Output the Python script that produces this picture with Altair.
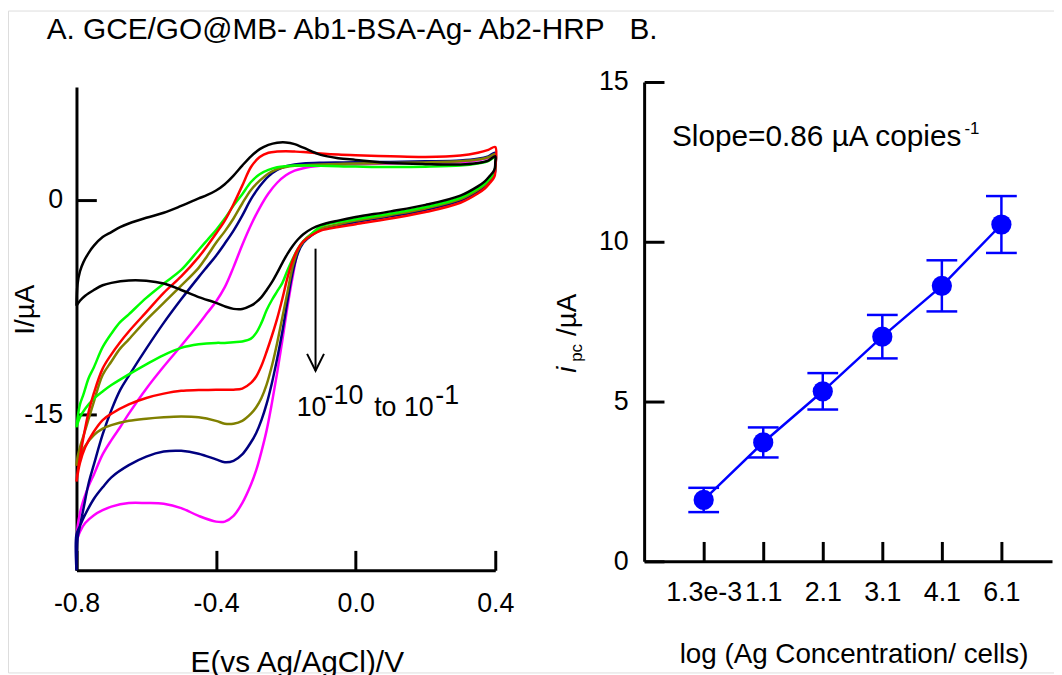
import altair as alt
import pandas as pd

FONT = "Liberation Sans"
W, H = 1054, 667
BLUE = "#0000ff"

# ---------------- Panel A : cyclic voltammograms ----------------
E_UP = [-0.8, -0.797, -0.79, -0.78, -0.765, -0.75, -0.725, -0.7, -0.675, -0.65,
        -0.6, -0.55, -0.5, -0.45, -0.425, -0.4, -0.375, -0.35, -0.325, -0.3,
        -0.275, -0.25, -0.225, -0.2, -0.175, -0.15, -0.1, -0.05, 0.0, 0.1,
        0.2, 0.3, 0.35, 0.38, 0.4]
E_DOWN = [0.4, 0.399, 0.395, 0.385, 0.37, 0.35, 0.3, 0.2, 0.1, 0.0,
          -0.05, -0.1, -0.125, -0.15, -0.165, -0.18, -0.195, -0.21, -0.225, -0.24,
          -0.255, -0.27, -0.285, -0.3, -0.325, -0.35, -0.375, -0.4, -0.45, -0.5,
          -0.55, -0.6, -0.65, -0.7, -0.725, -0.75, -0.775, -0.79, -0.8]

BLACK_UP = [-7.4, -5.9, -5.0, -4.35, -3.7, -3.2, -2.6, -2.25, -1.9, -1.65,
            -1.25, -0.9, -0.42, 0.1, 0.35, 0.66, 1.1, 1.7, 2.4, 3.05,
            3.55, 3.85, 4.0, 4.02, 3.9, 3.65, 3.15, 2.92, 2.8, 2.58,
            2.5, 2.48, 2.58, 2.75, 3.05]
BLACK_DOWN = [2.6, 2.25, 2.0, 1.7, 1.3, 0.95, 0.3, -0.35, -0.8, -1.2,
              -1.45, -1.75, -2.0, -2.4, -2.75, -3.2, -3.75, -4.4, -5.1, -5.75,
              -6.3, -6.8, -7.15, -7.4, -7.63, -7.62, -7.45, -7.2, -6.8, -6.3,
              -5.85, -5.65, -5.63, -5.8, -5.97, -6.3, -6.7, -7.05, -7.4]
GREEN_UP = [-15.9, -15.3, -14.3, -13.6, -12.45, -11.7, -10.3, -9.35, -8.55, -8.0,
            -6.85, -5.85, -4.9, -3.5, -2.8, -2.1, -1.3, -0.4, 0.4, 1.25,
            1.8, 2.1, 2.28, 2.36, 2.4, 2.4, 2.38, 2.35, 2.33, 2.3,
            2.32, 2.4, 2.55, 2.72, 3.0]
GREEN_DOWN = [2.5, 2.1, 1.85, 1.55, 1.15, 0.8, 0.15, -0.5, -0.95, -1.35,
              -1.55, -1.85, -2.35, -2.9, -3.4, -4.1, -4.9, -5.8, -6.4, -7.0,
              -7.7, -8.6, -9.3, -9.7, -9.9, -9.95, -10.0, -10.0, -10.1, -10.35,
              -10.85, -11.5, -12.2, -12.95, -13.4, -13.9, -14.6, -15.2, -15.9]
RED_UP = [-19.7, -19.1, -18.0, -16.6, -14.8, -13.5, -11.8, -10.8, -9.95, -9.2,
          -7.85, -6.5, -5.35, -4.0, -3.2, -2.35, -1.45, -0.3, 1.0, 2.3,
          3.0, 3.3, 3.38, 3.4, 3.38, 3.35, 3.25, 3.17, 3.12, 3.05,
          3.0, 3.1, 3.3, 3.5, 3.7]
RED_DOWN = [2.15, 1.75, 1.5, 1.2, 0.8, 0.45, -0.2, -0.85, -1.3, -1.7,
            -1.9, -2.15, -2.45, -2.9, -3.4, -4.2, -5.4, -6.9, -8.3, -9.5,
            -10.6, -11.6, -12.35, -12.8, -13.2, -13.27, -13.27, -13.27, -13.3, -13.35,
            -13.55, -13.85, -14.3, -14.95, -15.4, -16.2, -17.3, -18.4, -19.7]
OLIVE_UP = [-18.6, -18.0, -17.3, -16.5, -15.3, -14.1, -12.25, -11.3, -10.4, -9.75,
            -8.4, -7.2, -6.0, -4.75, -3.9, -3.0, -2.2, -1.3, -0.25, 0.7,
            1.35, 1.85, 2.15, 2.3, 2.38, 2.42, 2.48, 2.52, 2.55, 2.58,
            2.62, 2.7, 2.82, 2.98, 3.2]
OLIVE_DOWN = [2.4, 2.0, 1.75, 1.45, 1.05, 0.7, 0.05, -0.6, -1.05, -1.45,
              -1.7, -2.0, -2.35, -2.9, -3.5, -4.6, -6.4, -8.2, -10.0, -11.6,
              -12.9, -13.85, -14.5, -14.95, -15.45, -15.65, -15.65, -15.45, -15.2, -15.15,
              -15.2, -15.3, -15.45, -15.75, -16.0, -16.45, -17.2, -17.85, -18.6]
NAVY_UP = [-25.9, -23.7, -22.8, -21.6, -19.8, -18.5, -16.4, -14.7, -13.3, -12.3,
           -10.4, -8.6, -6.95, -5.4, -4.65, -3.9, -3.05, -2.15, -1.1, 0.05,
           0.95, 1.65, 2.1, 2.35, 2.48, 2.55, 2.6, 2.62, 2.63, 2.66,
           2.7, 2.76, 2.88, 3.05, 3.3]
NAVY_DOWN = [2.3, 1.9, 1.65, 1.35, 0.95, 0.6, -0.05, -0.7, -1.15, -1.55,
             -1.8, -2.1, -2.45, -3.0, -3.7, -5.0, -7.0, -9.2, -11.1, -12.8,
             -14.25, -15.4, -16.3, -16.95, -17.8, -18.25, -18.35, -18.15, -17.75, -17.55,
             -17.6, -17.95, -18.55, -19.4, -20.1, -20.9, -22.0, -22.8, -23.4]
MAGENTA_UP = [-24.0, -22.9, -21.9, -21.0, -20.0, -19.2, -17.8, -16.8, -15.9, -14.95,
              -13.2, -11.65, -10.2, -8.7, -7.9, -7.1, -6.1, -4.7, -3.15, -1.75,
              -0.55, 0.45, 1.2, 1.72, 2.05, 2.22, 2.38, 2.45, 2.48, 2.55,
              2.6, 2.65, 2.78, 2.92, 3.1]
MAGENTA_DOWN = [2.35, 1.95, 1.7, 1.4, 1.0, 0.65, 0.0, -0.65, -1.1, -1.5,
                -1.75, -2.05, -2.4, -2.95, -3.6, -5.3, -7.4, -9.8, -12.1, -14.2,
                -16.1, -17.6, -18.9, -19.9, -21.2, -22.1, -22.5, -22.5, -22.1, -21.55,
                -21.25, -21.2, -21.2, -21.45, -21.7, -22.05, -22.6, -23.2, -23.9]

CURVES = [  # drawing order
    ("magenta", "#ff00ff", MAGENTA_UP, MAGENTA_DOWN),
    ("navy", "#000080", NAVY_UP, NAVY_DOWN),
    ("olive", "#808000", OLIVE_UP, OLIVE_DOWN),
    ("green", "#00ff00", GREEN_UP, GREEN_DOWN),
    ("red", "#ff0000", RED_UP, RED_DOWN),
    ("black", "#000000", BLACK_UP, BLACK_DOWN),
]

A_X_TICKS = [-0.8, -0.4, 0.0, 0.4]
A_Y_TICKS = [0, -15]
ANNOT_A_PARTS = ["10", "-10", "to 10", "-1"]

# ---------------- Panel B : calibration ----------------
CONC_LABELS = ["1.3e-3", "1.1", "2.1", "3.1", "4.1", "6.1"]
IPC = [1.92, 3.72, 5.32, 7.03, 8.62, 10.54]
IPC_ERR = [0.38, 0.47, 0.57, 0.68, 0.80, 0.89]
B_Y_TICKS = [0, 5, 10, 15]

TITLE = "A. GCE/GO@MB- Ab1-BSA-Ag- Ab2-HRP\u00a0\u00a0\u00a0B."
SLOPE_TEXT = "Slope=0.86 \u00b5A copies"
SLOPE_SUP = "-1"

# ---------------- scales & axes ----------------
xA = alt.Scale(domain=[-0.8, 0.4], range=[69, 491], nice=False, zero=False)
yA = alt.Scale(domain=[-25.9, 7.9], range=[564, 77], nice=False, zero=False)
xB = alt.Scale(domain=[-1, 5.85], range=[641, 1052], nice=False, zero=False)
yB = alt.Scale(domain=[0, 15], range=[555, 72], nice=False, zero=False)

common = dict(domainColor="black", tickColor="black", labelColor="black",
              domainWidth=3, tickWidth=3, tickSize=20, grid=False,
              labelFont=FONT, labelFontSize=27, labelFlush=False,
              labelOverlap=False, titleFont=FONT, titleColor="black",
              titleFontWeight="normal")

axAx = alt.Axis(orient="top", offset=-564, values=A_X_TICKS,
                labelExpr="datum.value < 0 ? '-' + format(-datum.value, '.1f') : format(datum.value, '.1f')",
                labelBaseline="alphabetic", labelAlign="center", labelPadding=-62,
                title="E(vs Ag/AgCl)/V", titleFontSize=30, titleX=291, titleY=102,
                titleAlign="center", titleBaseline="alphabetic", titleAngle=0, **common)
axAy = alt.Axis(orient="right", offset=69 - W, values=A_Y_TICKS,
                labelExpr="datum.value < 0 ? '-' + format(-datum.value, 'd') : format(datum.value, 'd')",
                labelAlign="right", labelBaseline="middle", labelPadding=-34,
                title="I/\u00b5A", titleFontSize=28, titleAngle=270, titleX=-43, titleY=301,
                titleAlign="center", titleBaseline="alphabetic", **common)
b_label_expr = "[" + ",".join("'%s'" % s for s in CONC_LABELS) + "][datum.value]"
axBx = alt.Axis(orient="top", offset=-555, values=list(range(len(CONC_LABELS))),
                labelExpr=b_label_expr, labelBaseline="alphabetic", labelAlign="center",
                labelPadding=-59, title="log (Ag Concentration/ cells)", titleFontSize=28,
                titleX=852, titleY=102, titleAlign="center", titleBaseline="alphabetic",
                titleAngle=0, **common)
axBy = alt.Axis(orient="right", offset=641 - W, values=B_Y_TICKS,
                labelAlign="right", labelBaseline="middle", labelPadding=-36,
                title=None, **common)

def XA(f="E"):
    return alt.X(f + ":Q", scale=xA, axis=axAx)

def YA(f="I"):
    return alt.Y(f + ":Q", scale=yA, axis=axAy)

def XB(f="idx"):
    return alt.X(f + ":Q", scale=xB, axis=axBx)

def YB(f="val"):
    return alt.Y(f + ":Q", scale=yB, axis=axBy)

# ---------------- panel A layers ----------------
layersA = []
for name, color, up, down in CURVES:
    path = list(zip(E_UP, up)) + list(zip(E_DOWN, down))
    if abs(down[-1] - up[0]) > 0.5:
        path.append((E_UP[0], up[0]))
    df = pd.DataFrame({"k": range(len(path)),
                       "E": [p[0] for p in path],
                       "I": [p[1] for p in path]})
    layersA.append(
        alt.Chart(df).mark_line(color=color, strokeWidth=2.5, interpolate="catmull-rom")
        .encode(x=XA(), y=YA(), order="k:Q")
    )

arrow = pd.DataFrame({"E": [-0.115], "I": [-3.41], "I2": [-11.95]})
layersA.append(alt.Chart(arrow).mark_rule(color="black", strokeWidth=2)
               .encode(x=XA(), y=YA(), y2="I2:Q"))
layersA.append(alt.Chart(arrow).mark_point(shape="M -1 -2 L 0 0 L 1 -2", filled=False,
                                           size=289, strokeWidth=2, color="black", opacity=1)
               .encode(x=XA(), y=YA("I2")))

annA = pd.DataFrame({"E": [-0.169, -0.089, 0.053, 0.228],
                     "I": [-15.14, -14.24, -15.14, -14.24],
                     "txt": ANNOT_A_PARTS})
layersA.append(alt.Chart(annA).mark_text(font=FONT, fontSize=27, align="left",
                                         baseline="alphabetic", color="black")
               .encode(x=XA(), y=YA(), text="txt:N"))

panelA = alt.layer(*layersA)

# ---------------- panel B layers ----------------
dfB = pd.DataFrame({"idx": range(len(IPC)), "val": IPC,
                    "lo": [v - e for v, e in zip(IPC, IPC_ERR)],
                    "hi": [v + e for v, e in zip(IPC, IPC_ERR)]})
baseB = alt.Chart(dfB)
lineB = baseB.mark_line(color=BLUE, strokeWidth=2.5).encode(x=XB(), y=YB())
errB = baseB.mark_rule(color=BLUE, strokeWidth=2.5).encode(x=XB(), y=YB("lo"), y2="hi:Q")
capLo = baseB.mark_tick(color=BLUE, orient="horizontal", size=31, thickness=2.5, opacity=1).encode(x=XB(), y=YB("lo"))
capHi = baseB.mark_tick(color=BLUE, orient="horizontal", size=31, thickness=2.5, opacity=1).encode(x=XB(), y=YB("hi"))
ptsB = baseB.mark_circle(color=BLUE, size=415, opacity=1).encode(x=XB(), y=YB())

annB = pd.DataFrame({"idx": [-0.533], "val": [13.01], "txt": [SLOPE_TEXT]})
slope = alt.Chart(annB).mark_text(font=FONT, fontSize=30, align="left", baseline="alphabetic",
                                  color="black").encode(x=XB(), y=YB(), text="txt:N")
supB = pd.DataFrame({"idx": [4.38], "val": [13.38], "txt": [SLOPE_SUP]})
slopeSup = alt.Chart(supB).mark_text(font=FONT, fontSize=17, align="left", baseline="alphabetic",
                                     color="black").encode(x=XB(), y=YB(), text="txt:N")

panelB = alt.layer(lineB, errB, capLo, capHi, ptsB, slope, slopeSup)

# ---------------- free text (title, B y-axis title) ----------------
def free_text(txt, x, y, size, angle=0, style="normal"):
    return alt.Chart(pd.DataFrame({"t": [txt]})).mark_text(
        font=FONT, fontSize=size, align="left", baseline="alphabetic",
        angle=angle, fontStyle=style, color="black"
    ).encode(text="t:N", x=alt.value(x), y=alt.value(y))

title_t = free_text(TITLE, 39, 29, 30)
yb_i = free_text("i", 572, 365, 28, angle=270, style="italic")
yb_pc = free_text("pc", 578, 354, 17, angle=270)
yb_rest = free_text("/\u00b5A", 572, 328, 28, angle=270)

chart = (
    alt.layer(panelA, panelB, title_t, yb_i, yb_pc, yb_rest)
    .resolve_scale(x="independent", y="independent")
    .properties(width=W, height=H, autosize=alt.AutoSizeParams(type="none"), padding=0)
    .configure_view(stroke=None)
    .configure(font=FONT)
)

chart.save("out.html", embed_options={"renderer": "svg", "actions": False})
